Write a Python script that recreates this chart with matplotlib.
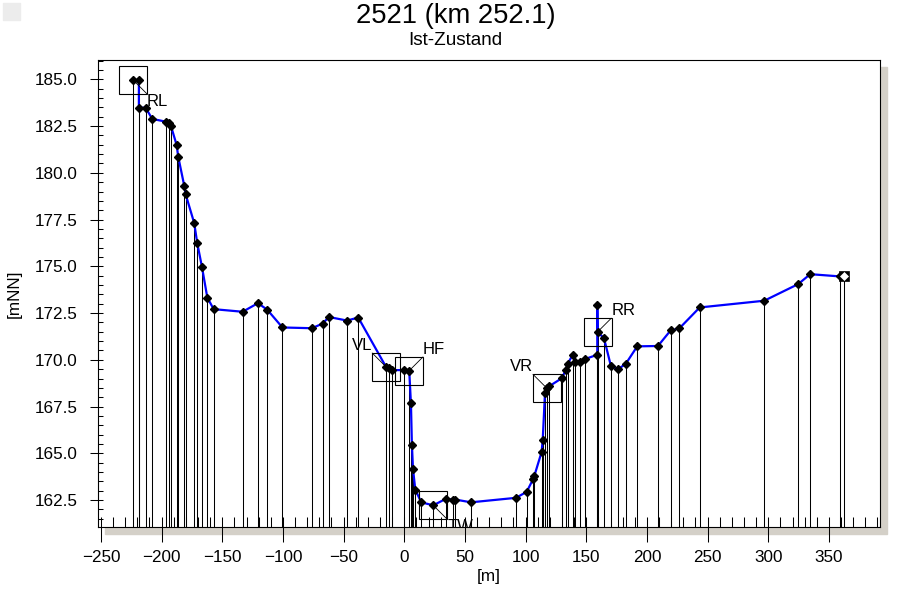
import matplotlib
matplotlib.use("Agg")
import matplotlib.pyplot as plt
from matplotlib.patches import Rectangle
from matplotlib.ticker import MultipleLocator

plt.rcParams["font.family"] = ["Liberation Sans", "DejaVu Sans"]

# ── data ───────────────────────────────────────────────────────────────────
station = [-223.4, -218.7, -218.7, -213.1, -207.7, -196.7, -193.9, -192.3,
           -187.6, -186.3, -181.3, -180.2, -173.1, -170.6, -166.7, -162.3,
           -157.1, -133.2, -120.6, -112.9, -100.4, -76.1, -67.2, -62.1,
           -47.2, -37.9, -15.1, -12.6, -10.1, -0.2, 4.1, 5.5,
           6.3, 7.2, 9.1, 14.0, 23.9, 34.1, 39.9, 41.8,
           55.0, 92.1, 100.9, 106.3, 107.1, 113.2, 114.1, 116.0,
           117.4, 119.3, 130.2, 133.0, 134.7, 138.8, 140.9, 144.8,
           148.9, 159.1, 159.1, 159.3, 164.6, 170.4, 176.4, 182.5,
           192.0, 209.1, 219.5, 226.7, 243.5, 296.7, 324.7, 334.6,
           359.1, 362.6]
height = [184.96, 184.96, 183.48, 183.48, 182.88, 182.74, 182.65, 182.51,
          181.49, 180.87, 179.30, 178.86, 177.31, 176.24, 174.96, 173.33,
          172.71, 172.57, 173.03, 172.68, 171.73, 171.69, 171.94, 172.29,
          172.10, 172.26, 169.63, 169.54, 169.45, 169.45, 169.42, 167.67,
          165.46, 164.17, 163.06, 162.38, 162.22, 162.56, 162.53, 162.53,
          162.38, 162.62, 162.94, 163.63, 163.77, 165.07, 165.69, 168.23,
          168.49, 168.58, 169.03, 169.47, 169.78, 170.27, 169.90, 169.86,
          170.04, 170.27, 172.91, 171.49, 171.16, 169.65, 169.51, 169.78,
          170.72, 170.74, 171.57, 171.68, 172.80, 173.16, 174.05, 174.58,
          174.46, 174.46]

mark_names = ["RL", "VL", "HF", "TW", "VR", "RR"]
mark_index = [0, 26, 30, 36, 48, 59]
mark_side = [(1, -1), (-1, 1), (1, 1), (1, -1), (-1, 1), (1, 1)]

title = "2521 (km 252.1)"
subtitle = "Ist-Zustand"

# ── figure ─────────────────────────────────────────────────────────────────
W, H = 911, 591
fig = plt.figure(figsize=(W / 100, H / 100), dpi=100)
fig.patch.set_facecolor("white")

left, right, top, bottom = 98, 880, 59.5, 527
ax = fig.add_axes([left / W, (H - bottom) / H, (right - left) / W, (bottom - top) / H])
ax.set_facecolor("white")
ax.set_zorder(2)

# grey drop shadow behind the plot frame
fig.patches.append(Rectangle(((left + 7) / W, (H - bottom - 7) / H),
                             (right - left) / W, (bottom - top) / H,
                             transform=fig.transFigure, color="#d4d0c8", zorder=0))
fig.patches.append(Rectangle((3 / W, 1 - 20 / H), 17 / W, 17 / H,
                             transform=fig.transFigure, color="#ececec", zorder=0))

x0, x1 = -252.4, 392.1
y0, y1 = 161.06, 186.06
ax.set_xlim(x0, x1)
ax.set_ylim(y0, y1)

# stems
ax.vlines(station, y0, height, colors="black", lw=0.75, zorder=2)
# profile
ax.plot(station, height, color="#0000ff", lw=1.6, zorder=3)
ax.plot(station[:-1], height[:-1], ls="none", marker="D", ms=4.3, mfc="black",
        mec="black", mew=1, zorder=4)
# end point: black square with a white diamond
ax.plot(station[-1:], height[-1:], ls="none", marker="s", ms=7, mfc="black",
        mec="black", mew=0.5, zorder=4)
ax.plot(station[-1:], height[-1:], ls="none", marker="D", ms=3.6, mfc="white",
        mec="white", mew=0.5, zorder=4)

# marker boxes with labels
for name, i, (sx, sy) in zip(mark_names, mark_index, mark_side):
    px, py = station[i], height[i]
    ax.plot([px], [py], marker="s", ms=19.8, mfc="none", mec="black", mew=0.8,
            zorder=5)
    ax.annotate("", xy=(px, py), xytext=(sx * 9.9, sy * 9.9),
                textcoords="offset points",
                arrowprops=dict(arrowstyle="-", lw=0.6, color="black",
                                shrinkA=0, shrinkB=0), zorder=5)
    ax.annotate(name, xy=(px, py), xytext=(sx * 10, sy * 15.5),
                textcoords="offset points", fontsize=12,
                ha="left" if sx > 0 else "right", va="center",
                clip_on=True, zorder=5)

# axes, ticks
ax.xaxis.set_major_locator(MultipleLocator(50))
ax.xaxis.set_minor_locator(MultipleLocator(10))
ax.yaxis.set_major_locator(MultipleLocator(2.5))
ax.yaxis.set_minor_locator(MultipleLocator(0.5))
ax.xaxis.remove_overlapping_locs = False
ax.yaxis.remove_overlapping_locs = False
ax.yaxis.set_major_formatter(matplotlib.ticker.FormatStrFormatter("%.1f"))

ax.tick_params(axis="x", which="major", direction="out", length=10.8, width=0.75,
               pad=5.5, labelsize=12.3)
ax.tick_params(axis="x", which="minor", direction="in", length=7.2, width=0.75)
ax.tick_params(axis="y", which="major", direction="out", length=5.8, width=0.75,
               pad=8.6, labelsize=12.3)
ax.tick_params(axis="y", which="minor", direction="in", length=3.6, width=0.75)
for s in ax.spines.values():
    s.set_linewidth(0.8)

ax.set_xlabel("[m]", fontsize=12.3, labelpad=3)
ax.set_ylabel("[mNN]", fontsize=12.3)
ax.yaxis.set_label_coords(-0.097, 0.5)

fig.text(0.5, 1 - 23.3 / H, title, ha="center", va="baseline", fontsize=19.7)
fig.text(0.5, 1 - 45 / H, subtitle, ha="center", va="baseline", fontsize=13.6)

fig.savefig("out.png", dpi=100, facecolor="white")
